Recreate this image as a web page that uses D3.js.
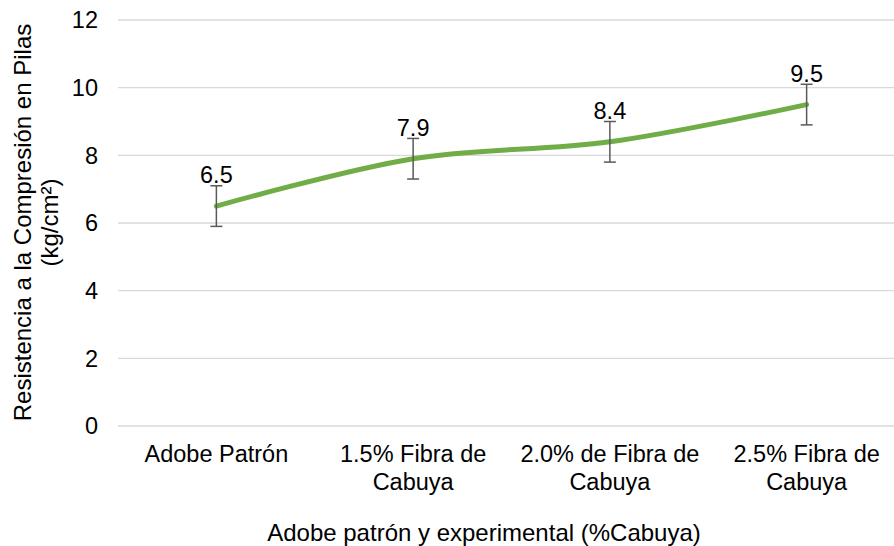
<!DOCTYPE html>
<html>
<head>
<meta charset="utf-8">
<script src="https://cdn.jsdelivr.net/npm/d3@7"></script>
<style>
  body { margin: 0; background: #fff; }
  text { font-family: "Liberation Sans", Arial, sans-serif; fill: #000; }
</style>
</head>
<body>
<svg width="894" height="546"></svg>
<script>
// data
var categories = [["Adobe Patrón"], ["1.5% Fibra de", "Cabuya"], ["2.0% de Fibra de", "Cabuya"], ["2.5% Fibra de", "Cabuya"]];
var values = [6.5, 7.9, 8.4, 9.5];
var errors = [0.6, 0.6, 0.6, 0.6];
var yTicks = [0, 2, 4, 6, 8, 10, 12];

var svg = d3.select("svg");

var x = d3.scaleBand()
    .domain(d3.range(categories.length))
    .range([118, 905]);

var y = d3.scaleLinear()
    .domain([0, 12])
    .range([426, 20]);

// gridlines
svg.append("g")
    .selectAll("line")
    .data(yTicks)
    .enter()
    .append("line")
    .attr("x1", 118)
    .attr("x2", 905)
    .attr("y1", function (d) { return y(d); })
    .attr("y2", function (d) { return y(d); })
    .style("stroke", "#d9d9d9")
    .style("stroke-width", 1.3);

// y tick labels
svg.append("g")
    .selectAll("text")
    .data(yTicks)
    .enter()
    .append("text")
    .attr("x", 98)
    .attr("y", function (d) { return y(d); })
    .attr("dy", "0.35em")
    .style("text-anchor", "end")
    .style("font-size", "23.5px")
    .text(function (d) { return d; });

// x category labels
var cat = svg.append("g")
    .selectAll("text")
    .data(categories)
    .enter()
    .append("text")
    .attr("x", function (d, i) { return x(i) + x.bandwidth() / 2; })
    .attr("y", 462)
    .style("text-anchor", "middle")
    .style("font-size", "23.5px");

cat.selectAll("tspan")
    .data(function (d) { return d; })
    .enter()
    .append("tspan")
    .attr("x", function () { return d3.select(this.parentNode).attr("x"); })
    .attr("dy", function (d, i) { return i === 0 ? 0 : 28; })
    .text(function (d) { return d; });

// smoothed line
var line = d3.line()
    .x(function (d, i) { return x(i) + x.bandwidth() / 2; })
    .y(function (d) { return y(d); })
    .curve(d3.curveCatmullRom.alpha(0.5));

svg.append("path")
    .datum(values)
    .attr("d", line)
    .style("fill", "none")
    .style("stroke", "#70ad47")
    .style("stroke-width", 5)
    .style("stroke-linecap", "round");

// error bars
var eb = svg.append("g")
    .selectAll("g")
    .data(values)
    .enter()
    .append("g")
    .style("stroke", "#595959")
    .style("stroke-width", 1.5);

eb.append("line")
    .attr("x1", function (d, i) { return x(i) + x.bandwidth() / 2; })
    .attr("x2", function (d, i) { return x(i) + x.bandwidth() / 2; })
    .attr("y1", function (d, i) { return y(d + errors[i]); })
    .attr("y2", function (d, i) { return y(d - errors[i]); });

[1, -1].forEach(function (s) {
    eb.append("line")
        .attr("x1", function (d, i) { return x(i) + x.bandwidth() / 2 - 6; })
        .attr("x2", function (d, i) { return x(i) + x.bandwidth() / 2 + 6; })
        .attr("y1", function (d, i) { return y(d + s * errors[i]); })
        .attr("y2", function (d, i) { return y(d + s * errors[i]); });
});

// data labels
svg.append("g")
    .selectAll("text")
    .data(values)
    .enter()
    .append("text")
    .attr("x", function (d, i) { return x(i) + x.bandwidth() / 2; })
    .attr("y", function (d, i) { return y(d + errors[i]) - 2.5; })
    .style("text-anchor", "middle")
    .style("font-size", "23.5px")
    .text(function (d) { return d3.format(".1f")(d); });

// axis titles
var yt = svg.append("text")
    .attr("transform", "translate(31,222.5) rotate(-90)")
    .style("text-anchor", "middle")
    .style("font-size", "24px");
yt.append("tspan").attr("x", 0).attr("dy", 0).text("Resistencia a la Compresión en Pilas");
yt.append("tspan").attr("x", 0).attr("dy", 27).text("(kg/cm²)");

svg.append("text")
    .attr("x", 484)
    .attr("y", 541)
    .style("text-anchor", "middle")
    .style("font-size", "24px")
    .text("Adobe patrón y experimental (%Cabuya)");
</script>
</body>
</html>
